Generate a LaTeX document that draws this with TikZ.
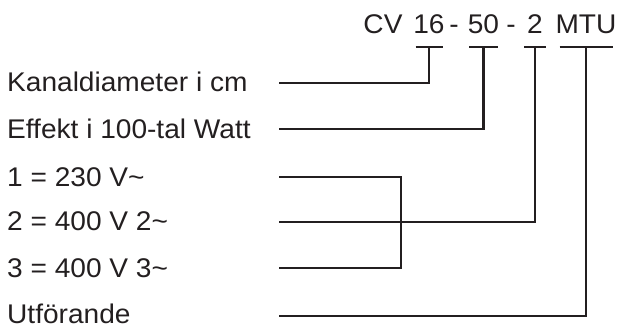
\documentclass[tikz,border=0pt]{standalone}
\usepackage{fontspec}
\setmainfont{Liberation Sans}[FakeStretch=1.04]
\definecolor{ink}{RGB}{35,31,32}
\begin{document}
\begin{tikzpicture}[x=1pt,y=-1pt,
  lbl/.style={anchor=base west, inner sep=0pt, font=\fontsize{27}{32}\selectfont, text=ink},
  code/.style={anchor=base, inner sep=0pt, font=\fontsize{27}{32}\selectfont, text=ink},
  wire/.style={draw=ink, line width=2.1pt}]
\useasboundingbox (0,0) rectangle (619,329);
% type code
\node[code] (cv)  at (383,33.5) {CV};
\node[code] (n16) at (429,33.5) {16};
\node[code] (d1)  at (454,33.5) {-};
\node[code] (n50) at (483.5,33.5) {50};
\node[code] (d2)  at (511,33.5) {-};
\node[code] (n2)  at (535,33.5) {2};
\node[code] (mtu) at (586,33.5) {MTU};
\coordinate (bary) at (0,46.7);
% labels
\node[lbl] (l1) at (7,91.5)  {Kanaldiameter i cm};
\node[lbl] (l2) at (7,138.2) {Effekt i 100-tal Watt};
\node[lbl] (l3) at (7,186.2) {1 = 230 V\char"007E};
\node[lbl] (l4) at (7,230.7) {2 = 400 V 2\char"007E};
\node[lbl] (l5) at (7,277.3) {3 = 400 V 3\char"007E};
\node[lbl] (l6) at (7,323.5) {Utförande};
% connector starts
\coordinate (s1) at (279,82.7);
\coordinate (s2) at (279,129.3);
\coordinate (s3) at (279,177.3);
\coordinate (s4) at (279,221.7);
\coordinate (s5) at (279,268.3);
\coordinate (s6) at (279,316);
\coordinate (j5) at (401,268.3);
% bars
\draw[wire] (n16.base |- bary) ++(-13.5,0) -- ++(27,0);
\draw[wire] (n50.base |- bary) ++(-14.5,0) -- ++(29,0);
\draw[wire] (n2.base |- bary) ++(-11,0) -- ++(22,0);
\draw[wire] (mtu.base |- bary) ++(-26.5,0) -- ++(53,0);
% connectors
\draw[wire] (n16.base |- bary) |- (s1);
\draw[wire] (n50.base |- bary) |- (s2);
\draw[wire] (n2.base |- bary) |- (s4);
\draw[wire] (mtu.base |- bary) |- (s6);
\draw[wire] (s3) -| (j5) -- (s5);
\end{tikzpicture}
\end{document}
